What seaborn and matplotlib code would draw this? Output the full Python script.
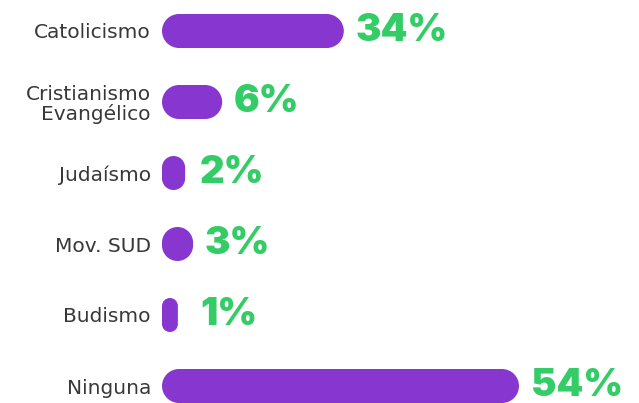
import matplotlib
matplotlib.use("Agg")
import matplotlib.pyplot as plt
import seaborn as sns
import pandas as pd
from matplotlib.path import Path
from matplotlib.patches import PathPatch

# data
categories = ["Catolicismo", "Cristianismo\nEvangélico", "Judaísmo", "Mov. SUD", "Budismo", "Ninguna"]
pct_labels = [34, 6, 2, 3, 1, 54]
# bar lengths as drawn (same units as Ninguna = 54)
bar_lengths = [27.5, 9.1, 3.5, 4.7, 2.4, 54]

purple = "#8737cf"
green = "#33cc66"


def rounded_rect(x0, yb, w, h, rx, ry):
    # rounded rectangle with real circular corners (radii given in data units)
    x1, yt = x0 + w, yb + h
    verts, codes = [(x0 + rx, yb)], [Path.MOVETO]
    corners = [((x1 - rx, yb + ry), -90, 0), ((x1 - rx, yt - ry), 0, 90),
               ((x0 + rx, yt - ry), 90, 180), ((x0 + rx, yb + ry), 180, 270)]
    for (cx, cy), a1, a2 in corners:
        arc = Path.arc(a1, a2)
        for j, (vx, vy) in enumerate(arc.vertices):
            verts.append((cx + rx * vx, cy + ry * vy))
            codes.append(Path.LINETO if j == 0 else arc.codes[j])
    verts.append(verts[0])
    codes.append(Path.CLOSEPOLY)
    return Path(verts, codes)


df = pd.DataFrame({"religion": categories, "length": bar_lengths, "pct": pct_labels})

sns.set_theme(style="white")
plt.rcParams["font.family"] = ["DejaVu Sans"]

W, H = 639, 403
fig = plt.figure(figsize=(W / 100, H / 100), dpi=100)
ax = fig.add_axes([162 / W, 0, (W - 162) / W, 1])

px_per_unit = 357 / 54
row_px = 71
bar_h = 34 / row_px

sns.barplot(data=df, y="religion", x="length", orient="h", color=purple,
            width=bar_h, ax=ax, saturation=1)

ax.set_xlim(0, (W - 162) / px_per_unit)
ax.set_ylim((H - 31) / row_px, -31 / row_px)

# swap the square bars for pill shaped ones
for p in list(ax.patches):
    x0, y0 = p.get_x(), p.get_y()
    w, h = p.get_width(), p.get_height()
    yb = min(y0, y0 + h)
    r_px = min(w * px_per_unit, abs(h) * row_px) / 2
    path = rounded_rect(x0, yb, w, abs(h), r_px / px_per_unit, r_px / row_px)
    p.remove()
    ax.add_patch(PathPatch(path, facecolor=purple, edgecolor="none", clip_on=False))

min_x = (200 - 162) / px_per_unit
gap = 12 / px_per_unit
for i, (L, v) in enumerate(zip(bar_lengths, pct_labels)):
    ax.text(max(L + gap, min_x), i, f"{v}%", color=green, fontsize=27.5,
            fontweight="black", family=["Inter", "DejaVu Sans"],
            ha="left", va="center")

ax.set_xlabel("")
ax.set_ylabel("")
ax.set_xticks([])
ax.tick_params(axis="y", length=0, pad=8, labelsize=14.5, labelcolor="#383838")
for t in ax.get_yticklabels():
    t.set_linespacing(1.0)
sns.despine(ax=ax, left=True, bottom=True)

fig.savefig("out.png", dpi=100)
